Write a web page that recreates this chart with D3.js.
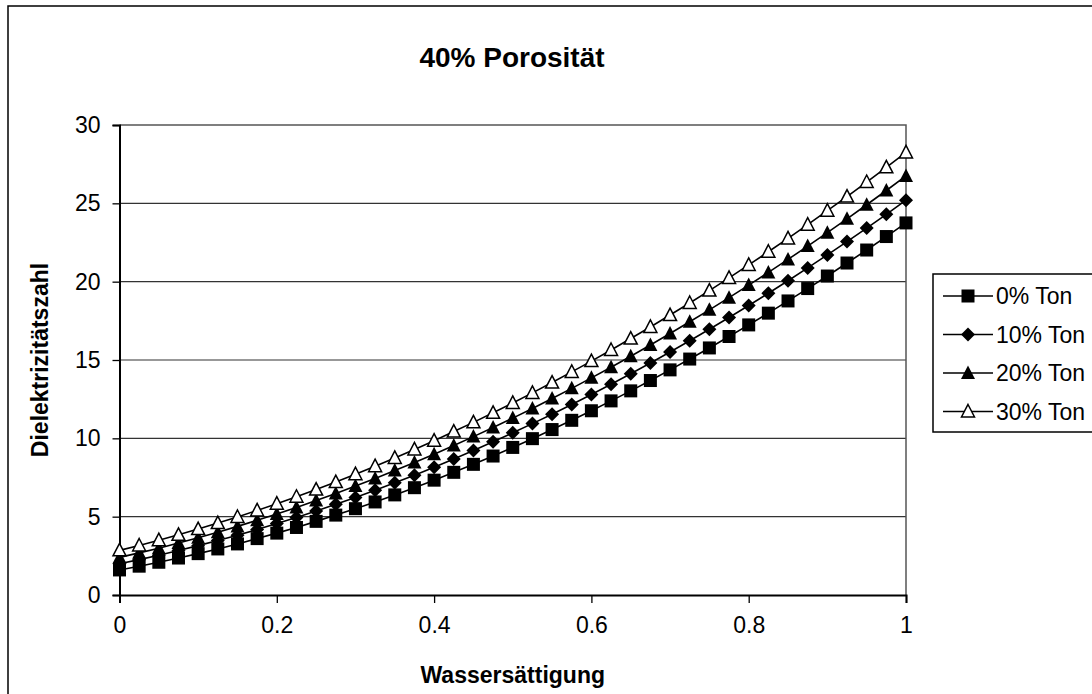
<!DOCTYPE html>
<html>
<head>
<meta charset="utf-8">
<script src="https://cdn.jsdelivr.net/npm/d3@7"></script>
<style>
  body { margin: 0; background: #fff; }
  text { font-family: Arial, "Liberation Sans", sans-serif; fill: #000; }
</style>
</head>
<body>
<div id="chart"></div>
<script>
var w = 1092, h = 694;

// *** DATA ***
var saturation = [0, 0.025, 0.05, 0.075, 0.1, 0.125, 0.15, 0.175, 0.2, 0.225,
  0.25, 0.275, 0.3, 0.325, 0.35, 0.375, 0.4, 0.425, 0.45, 0.475,
  0.5, 0.525, 0.55, 0.575, 0.6, 0.625, 0.65, 0.675, 0.7, 0.725,
  0.75, 0.775, 0.8, 0.825, 0.85, 0.875, 0.9, 0.925, 0.95, 0.975, 1];

var ton0 = [1.60, 1.84, 2.09, 2.36, 2.64, 2.94, 3.26, 3.60, 3.95, 4.31,
  4.70, 5.10, 5.51, 5.94, 6.39, 6.85, 7.33, 7.83, 8.34, 8.87,
  9.42, 9.98, 10.56, 11.15, 11.76, 12.39, 13.03, 13.69, 14.37, 15.06,
  15.77, 16.50, 17.24, 17.99, 18.77, 19.56, 20.36, 21.19, 22.02, 22.88, 23.75];

var ton10 = [2.00, 2.26, 2.54, 2.84, 3.15, 3.48, 3.82, 4.18, 4.56, 4.95,
  5.36, 5.79, 6.23, 6.69, 7.16, 7.65, 8.16, 8.68, 9.22, 9.78,
  10.35, 10.94, 11.54, 12.16, 12.80, 13.45, 14.12, 14.81, 15.51, 16.23,
  16.96, 17.71, 18.48, 19.26, 20.06, 20.88, 21.71, 22.56, 23.42, 24.30, 25.20];

var ton20 = [2.40, 2.69, 2.99, 3.32, 3.65, 4.01, 4.38, 4.77, 5.17, 5.59,
  6.03, 6.48, 6.95, 7.43, 7.94, 8.46, 8.99, 9.54, 10.11, 10.69,
  11.29, 11.91, 12.54, 13.19, 13.86, 14.54, 15.24, 15.96, 16.69, 17.44,
  18.20, 18.98, 19.78, 20.59, 21.42, 22.27, 23.13, 24.01, 24.91, 25.82, 26.75];

var ton30 = [2.85, 3.16, 3.50, 3.84, 4.21, 4.59, 4.98, 5.40, 5.83, 6.27,
  6.73, 7.21, 7.71, 8.22, 8.75, 9.29, 9.85, 10.43, 11.02, 11.63,
  12.26, 12.90, 13.56, 14.24, 14.93, 15.64, 16.37, 17.11, 17.87, 18.64,
  19.43, 20.24, 21.07, 21.91, 22.76, 23.64, 24.53, 25.43, 26.36, 27.30, 28.25];

var seriesNames = ["0% Ton", "10% Ton", "20% Ton", "30% Ton"];
var seriesValues = [ton0, ton10, ton20, ton30];
var xTicks = [0, 0.2, 0.4, 0.6, 0.8, 1];
var yTicks = [0, 5, 10, 15, 20, 25, 30];
var chartTitle = "40% Porosität",
    xAxisLabel = "Wassersättigung",
    yAxisLabel = "Dielektrizitätszahl";
// **************************

var svg = d3.select("#chart")
    .append("svg")
    .attr("width", w)
    .attr("height", h);

// outer chart border (runs off the right/bottom edge)
svg.append("rect")
    .attr("x", 8).attr("y", 6)
    .attr("width", 1100).attr("height", 700)
    .attr("fill", "#fff")
    .attr("stroke", "#000")
    .attr("stroke-width", 1.5);

var margin = {top: 125, right: 186, bottom: 99, left: 119.5},
    width = w - margin.left - margin.right,
    height = h - margin.top - margin.bottom;

var x = d3.scaleLinear().domain([0, 1]).range([0, width]),
    y = d3.scaleLinear().domain([0, 30]).range([height, 0]);

var g = svg.append("g")
    .attr("transform", "translate(" + margin.left + "," + margin.top + ")");

// gridlines
g.selectAll(".grid")
    .data(yTicks.filter(function(d) { return d > 0 && d < 30; }))
    .enter().append("line")
      .attr("x1", 0).attr("x2", width)
      .attr("y1", function(d) { return y(d); })
      .attr("y2", function(d) { return y(d); })
      .attr("stroke", "#333")
      .attr("stroke-width", 1.2);

// plot area frame (top + right)
g.append("path")
    .attr("d", "M0," + y(30) + "H" + width + "V" + height)
    .attr("fill", "none")
    .attr("stroke", "#555")
    .attr("stroke-width", 1.5);

// axes
var xAxis = g.append("g")
    .attr("transform", "translate(0," + height + ")")
    .call(d3.axisBottom(x).tickValues(xTicks).tickSize(8).tickPadding(14)
      .tickFormat(function(d) { return d === 0 || d === 1 ? d : d3.format(".1f")(d); }));
var yAxis = g.append("g")
    .call(d3.axisLeft(y).tickValues(yTicks).tickSize(7).tickPadding(12));

[xAxis, yAxis].forEach(function(a) {
  a.select(".domain").attr("stroke", "#000").attr("stroke-width", 2);
  a.selectAll(".tick line").attr("stroke", "#000").attr("stroke-width", 1.3);
  a.selectAll(".tick text")
    .style("font-family", "Arial, 'Liberation Sans', sans-serif")
    .style("font-size", "23px")
    .attr("fill", "#000");
});
xAxis.selectAll(".tick text").attr("dy", "0.71em");

// series lines
var line = d3.line()
    .x(function(d, i) { return x(saturation[i]); })
    .y(function(d) { return y(d); });

g.selectAll(".series")
    .data(seriesValues)
    .enter().append("path")
      .attr("class", "series")
      .attr("fill", "none")
      .attr("stroke", "#000")
      .attr("stroke-width", 1.6)
      .attr("d", line);

// markers
function marker(sel, k) {
  if (k === 0) {
    sel.append("rect").attr("x", -6.5).attr("y", -6.5).attr("width", 13).attr("height", 13)
      .attr("fill", "#000");
  } else if (k === 1) {
    sel.append("path").attr("d", "M0,-7L7,0L0,7L-7,0Z").attr("fill", "#000");
  } else if (k === 2) {
    sel.append("path").attr("d", "M0,-7.5L7,6L-7,6Z").attr("fill", "#000");
  } else {
    sel.append("path").attr("d", "M0,-7L6.5,5.5L-6.5,5.5Z")
      .attr("fill", "#fff").attr("stroke", "#000").attr("stroke-width", 1.5);
  }
}

seriesValues.forEach(function(vals, k) {
  var pts = g.append("g").selectAll("g")
    .data(vals)
    .enter().append("g")
      .attr("transform", function(d, i) {
        return "translate(" + x(saturation[i]) + "," + y(d) + ")";
      });
  marker(pts, k);
});

// titles
svg.append("text")
    .attr("x", 512).attr("y", 67)
    .attr("text-anchor", "middle")
    .style("font-size", "28px").style("font-weight", "bold")
    .text(chartTitle);

svg.append("text")
    .attr("x", margin.left + width / 2).attr("y", 683)
    .attr("text-anchor", "middle")
    .style("font-size", "23px").style("font-weight", "bold")
    .text(xAxisLabel);

svg.append("text")
    .attr("transform", "translate(48," + (margin.top + height / 2) + ") rotate(-90)")
    .attr("text-anchor", "middle")
    .style("font-size", "23px").style("font-weight", "bold")
    .text(yAxisLabel);

// legend
var legend = svg.append("g").attr("transform", "translate(933,274)");
legend.append("rect")
    .attr("width", 200).attr("height", 158)
    .attr("fill", "#fff")
    .attr("stroke", "#000")
    .attr("stroke-width", 1.5);

seriesNames.forEach(function(name, k) {
  var item = legend.append("g").attr("transform", "translate(0," + (22 + k * 38.5) + ")");
  item.append("line")
      .attr("x1", 10).attr("x2", 60)
      .attr("stroke", "#000").attr("stroke-width", 1.6);
  marker(item.append("g").attr("transform", "translate(35,0)"), k);
  item.append("text")
      .attr("x", 63).attr("y", 8)
      .style("font-size", "23px")
      .text(name);
});
</script>
</body>
</html>
